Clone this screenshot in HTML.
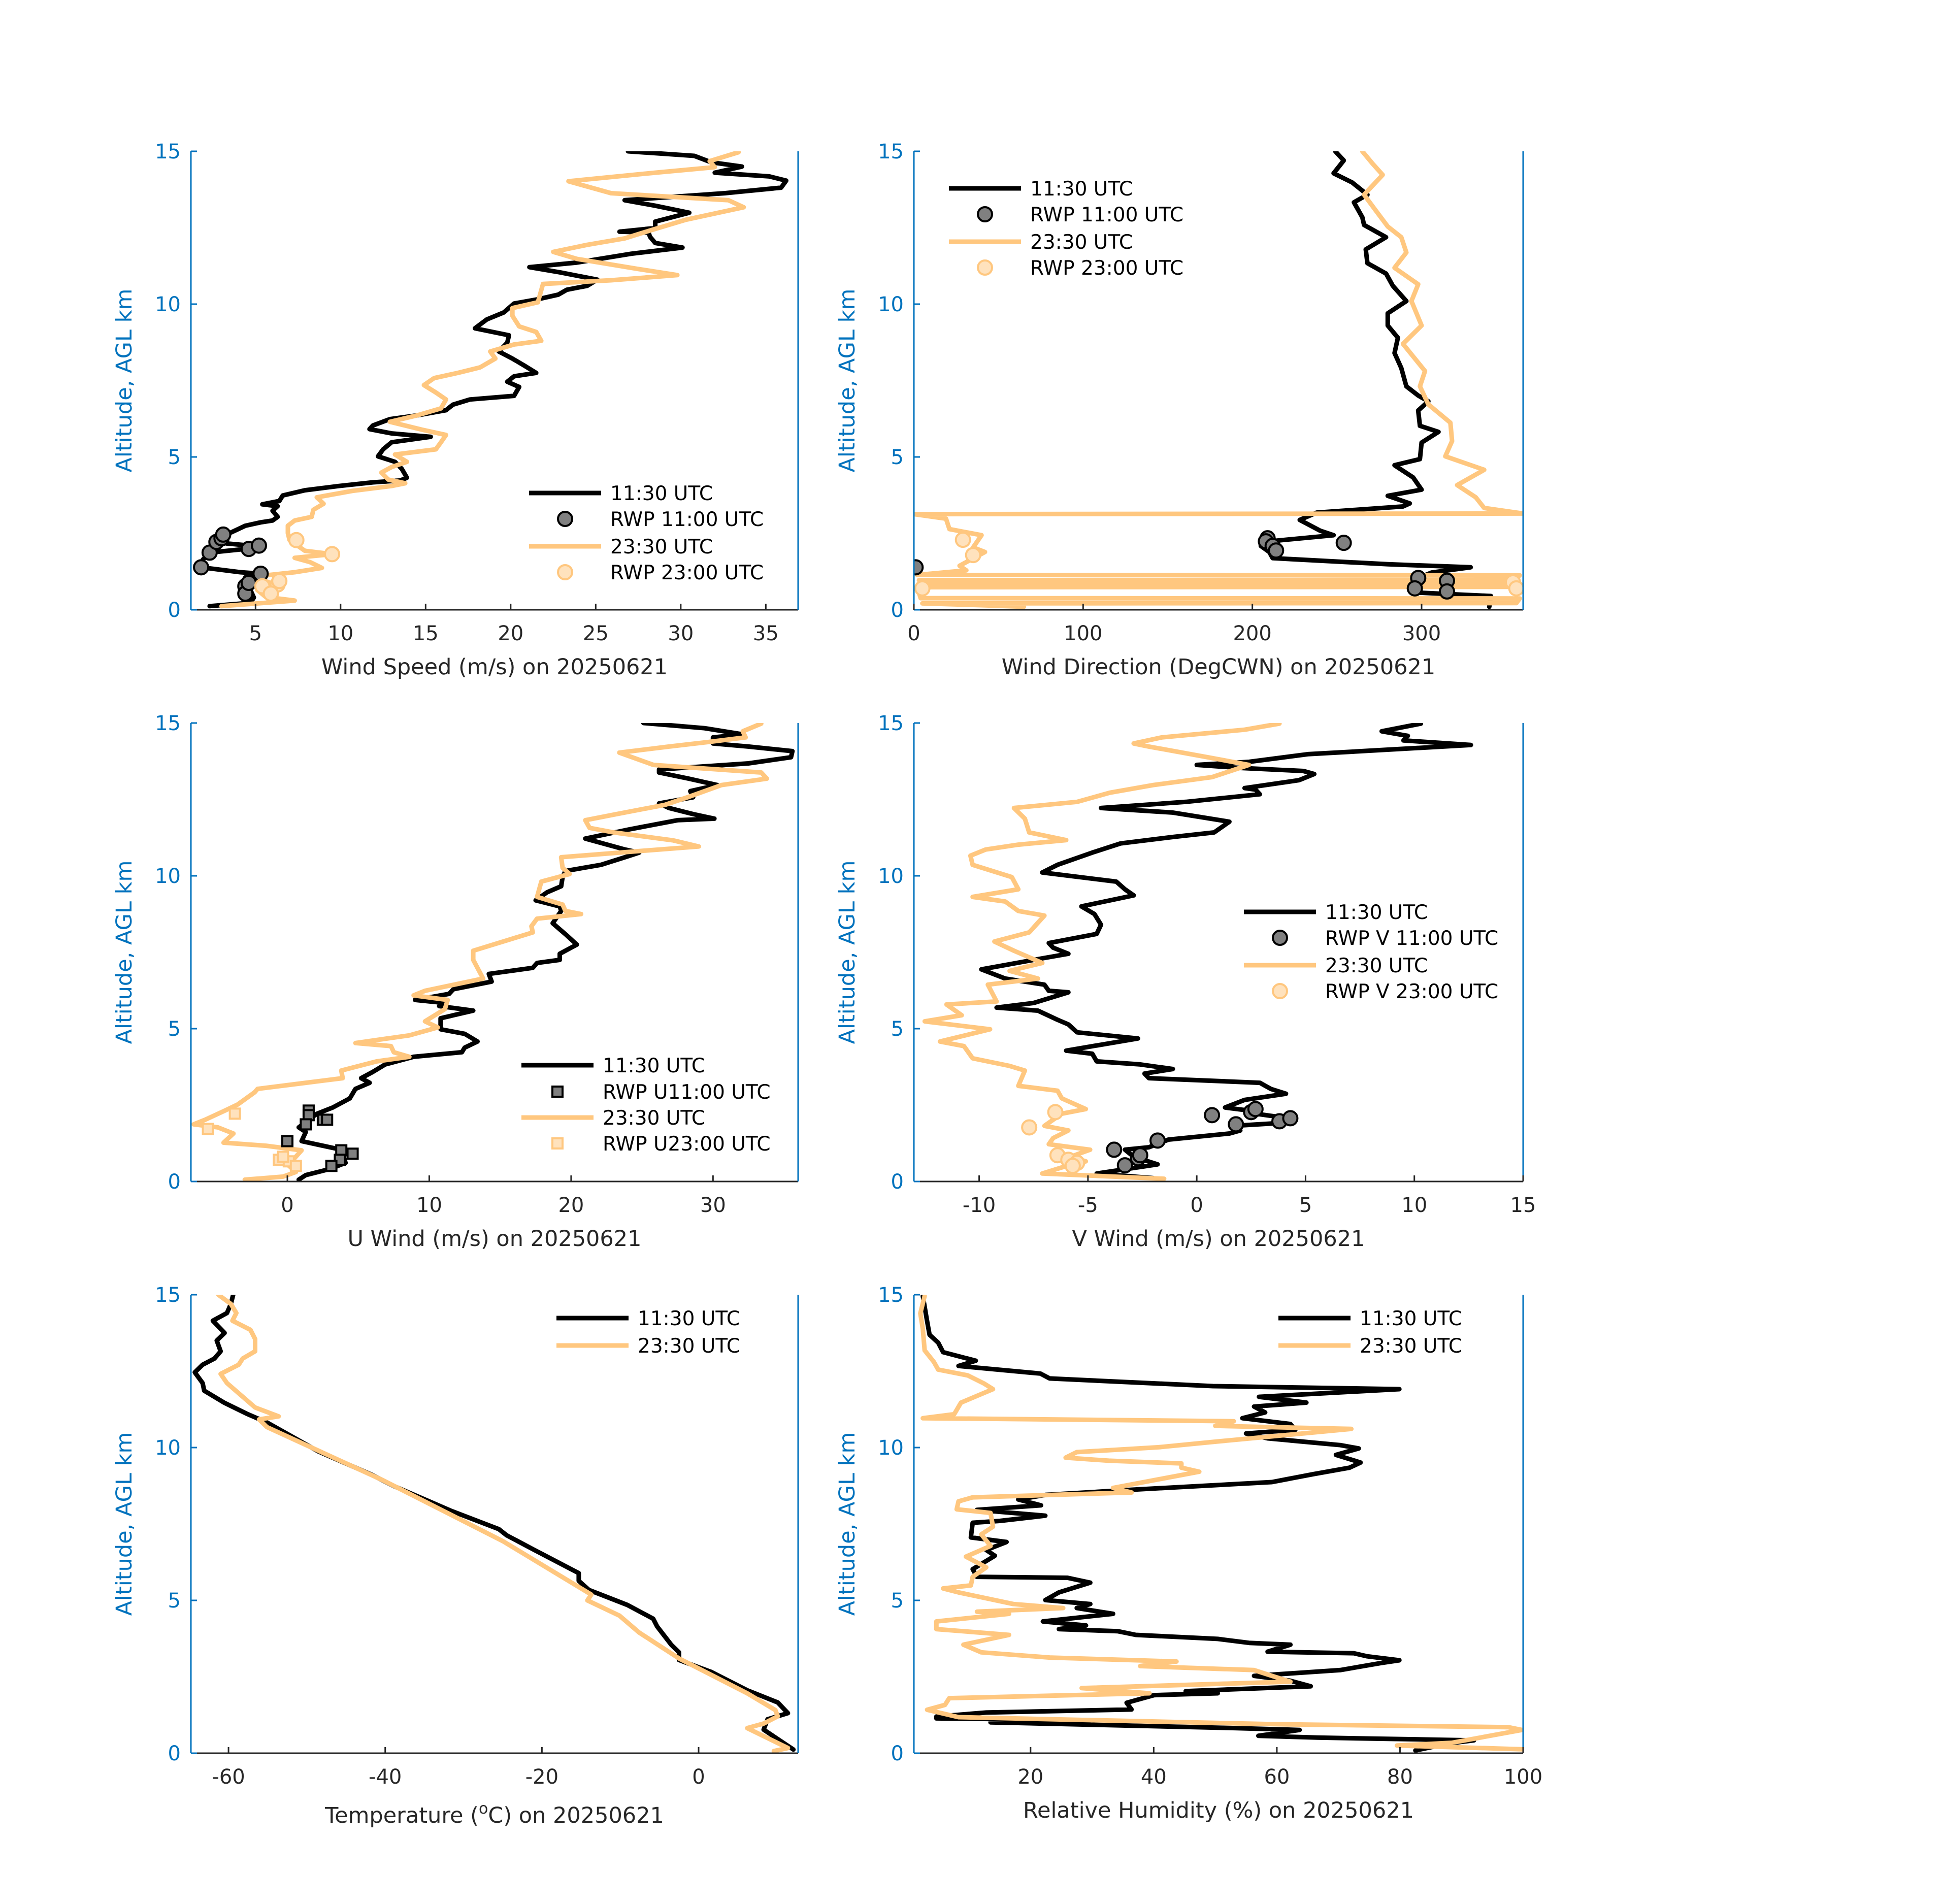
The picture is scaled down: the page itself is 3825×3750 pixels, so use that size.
<!DOCTYPE html>
<html>
<head>
<meta charset="utf-8">
<style>
  html,body{margin:0;padding:0;background:#fff;}
  svg{display:block;font-family:"DejaVu Sans","Liberation Sans",sans-serif;}
</style>
</head>
<body>
<svg id="fig" xmlns="http://www.w3.org/2000/svg" width="3825" height="3750" viewBox="0 0 3825 3750">
  <rect x="0" y="0" width="3825" height="3750" fill="#ffffff"/>
</svg>
<script>
// ---------------- DATA (value, altitude km) ----------------
const wsBlack=[[2.3,0.12],[4.7,0.23],[4.9,0.4],[4.6,0.77],[4.4,1.06],[5.3,1.18],[4.1,1.23],[1.8,1.39],[1.9,1.64],[2.3,1.87],[4.4,1.99],[4.7,2.1],[3.3,2.17],[2.6,2.28],[3.0,2.42],[3.6,2.54],[4.4,2.75],[5.3,2.86],[6.0,2.92],[6.3,3.04],[6.0,3.24],[6.3,3.39],[5.4,3.45],[6.4,3.56],[6.6,3.74],[7.9,3.91],[9.9,4.05],[11.9,4.17],[13.5,4.23],[13.9,4.32],[13.6,4.61],[13.2,4.84],[12.2,5.02],[12.5,5.25],[13.0,5.48],[15.3,5.66],[13.0,5.77],[11.7,5.91],[11.9,6.03],[12.9,6.24],[14.5,6.36],[16.2,6.53],[16.6,6.71],[17.6,6.88],[20.2,7.0],[20.5,7.29],[19.8,7.46],[20.2,7.64],[21.5,7.75],[20.8,7.99],[20.1,8.22],[19.3,8.45],[19.8,8.74],[19.9,8.98],[17.9,9.21],[18.6,9.5],[19.6,9.73],[20.2,10.02],[21.6,10.16],[22.8,10.31],[23.3,10.47],[24.5,10.6],[25.1,10.8],[22.9,11.04],[21.1,11.21],[23.9,11.36],[27.1,11.65],[30.1,11.85],[28.5,12.0],[28.2,12.2],[28.1,12.34],[26.4,12.37],[28.5,12.49],[28.5,12.7],[30.5,12.99],[28.5,13.22],[26.7,13.4],[32.6,13.63],[35.9,13.81],[36.2,14.04],[35.2,14.18],[32.0,14.3],[33.6,14.5],[31.8,14.64],[30.8,14.85],[26.9,15.0]];
const wsOrange=[[3.0,0.12],[7.3,0.3],[5.6,0.42],[5.1,0.65],[6.1,0.83],[5.3,1.0],[5.0,1.09],[7.3,1.23],[8.9,1.37],[8.2,1.56],[7.3,1.7],[9.5,1.82],[7.9,1.93],[7.0,2.28],[6.9,2.51],[6.9,2.75],[7.3,2.92],[8.3,3.04],[8.4,3.27],[9.0,3.47],[8.6,3.68],[10.7,3.89],[13.0,4.05],[13.8,4.14],[12.8,4.26],[12.4,4.49],[13.0,4.67],[13.9,4.84],[13.2,5.08],[15.6,5.25],[15.9,5.48],[16.2,5.72],[14.8,5.89],[12.9,6.15],[14.5,6.36],[15.9,6.59],[16.2,6.88],[15.6,7.11],[14.9,7.35],[15.5,7.58],[16.9,7.75],[18.2,7.93],[19.1,8.22],[18.8,8.45],[20.2,8.68],[21.8,8.8],[21.5,9.09],[20.5,9.27],[20.1,9.62],[20.1,9.87],[21.6,10.06],[21.9,10.66],[25.9,10.78],[29.8,10.95],[27.5,11.15],[23.9,11.48],[22.5,11.71],[24.5,11.94],[26.7,12.15],[28.2,12.41],[30.3,12.76],[33.7,13.17],[32.8,13.4],[25.9,13.63],[23.4,14.02],[28.5,14.3],[32.0,14.48],[31.7,14.68],[33.4,14.97]];
const wsRwpBlack=[[5.3,1.18],[4.4,0.77],[4.4,0.53],[4.6,0.88],[1.8,1.39],[2.3,1.87],[2.7,2.22],[3.0,2.34],[3.1,2.46],[4.6,1.99],[5.2,2.1]];
const wsRwpOrange=[[5.7,0.65],[6.3,0.83],[5.4,0.77],[6.4,0.94],[7.4,2.28],[9.5,1.82],[5.9,0.53]];

const wdBlack=[[340,0.1],[341,0.45],[295,0.57],[294,0.95],[306,1.22],[329,1.39],[280,1.49],[212,1.69],[210,1.89],[205,2.09],[210,2.24],[248,2.44],[240,2.59],[228,2.94],[238,3.18],[289,3.38],[293,3.48],[280,3.73],[300,3.93],[295,4.33],[284,4.73],[299,4.93],[300,5.47],[310,5.82],[299,6.02],[298,6.52],[304,6.82],[298,7.01],[291,7.31],[288,7.91],[284,8.4],[286,8.9],[280,9.3],[280,9.7],[291,10.1],[283,10.6],[279,11.0],[268,11.34],[267,11.79],[279,12.19],[266,12.59],[265,12.84],[260,13.33],[268,13.58],[259,13.98],[248,14.28],[254,14.7],[249,15.0]];
const wdOrange=[[65,0.1],[40,0.15],[5,0.21],[356,0.22],[358,0.37],[4,0.38],[2,0.74],[356,0.75],[358,0.84],[5,0.85],[3,0.97],[355,0.98],[358,1.13],[2,1.14],[31,1.29],[27,1.44],[42,1.89],[35,2.04],[40,2.44],[21,2.64],[19,2.98],[0,3.13],[360,3.15],[337,3.33],[332,3.68],[321,4.08],[337,4.58],[314,5.02],[318,5.52],[317,6.12],[304,6.72],[299,7.31],[302,7.81],[289,8.7],[300,9.3],[294,10.1],[298,10.65],[284,11.19],[291,11.69],[288,12.19],[280,12.54],[272,13.13],[266,13.58],[277,14.23],[271,14.6],[265,15.0]];
const wdRwpBlack=[[209,2.34],[208,2.24],[212,2.09],[214,1.94],[254,2.19],[1,1.39],[298,1.04],[315,0.95],[315,0.6],[296,0.7]];
const wdRwpOrange=[[29,2.29],[35,1.79],[5,0.7],[354,0.9],[356,0.7]];

const uBlack=[[0.8,0.06],[1.3,0.21],[3.0,0.41],[4.1,0.61],[3.9,0.91],[3.5,1.07],[1.0,1.32],[1.3,1.62],[0.8,1.77],[1.5,2.02],[2.1,2.22],[3.2,2.42],[4.4,2.72],[4.8,3.03],[5.8,3.23],[5.2,3.38],[6.0,3.58],[6.9,3.83],[8.9,4.08],[12.3,4.23],[12.5,4.38],[13.4,4.58],[12.5,4.83],[10.8,4.98],[10.8,5.34],[13.1,5.59],[10.7,5.74],[11.1,5.84],[9.0,5.94],[11.4,6.14],[11.7,6.29],[14.4,6.54],[14.2,6.79],[17.3,6.99],[17.6,7.15],[19.2,7.25],[19.2,7.45],[20.4,7.75],[19.7,8.05],[19.2,8.25],[18.7,8.45],[19.3,8.85],[19.2,9.0],[17.5,9.2],[18.3,9.46],[19.3,9.66],[19.4,9.96],[19.6,10.16],[22.1,10.36],[23.8,10.61],[24.8,10.76],[23.8,10.86],[21.0,11.22],[24.1,11.52],[27.5,11.82],[30.1,11.87],[28.6,12.02],[26.9,12.22],[26.2,12.37],[28.6,12.57],[28.4,12.77],[30.3,12.97],[28.3,13.18],[26.2,13.38],[26.2,13.48],[32.5,13.68],[35.5,13.88],[35.6,14.08],[32.5,14.23],[30.0,14.33],[30.0,14.53],[32.1,14.63],[29.4,14.83],[25.1,15.0]];
const uOrange=[[-3.0,0.06],[-0.3,0.16],[0.6,0.31],[0,0.56],[0.4,0.71],[1.0,1.02],[-1.5,1.17],[-4.5,1.27],[-3.8,1.57],[-4.9,1.77],[-6.6,1.87],[-5.8,2.02],[-4.4,2.32],[-3.5,2.52],[-2.3,2.92],[-2.1,3.03],[1.3,3.23],[3.9,3.38],[3.8,3.63],[6.3,3.93],[8.6,4.08],[7.5,4.23],[7.3,4.43],[4.8,4.53],[8.6,4.78],[10.6,5.04],[9.7,5.24],[11.1,5.64],[11.3,5.94],[8.9,6.09],[9.7,6.24],[13.8,6.64],[13.1,7.25],[13.1,7.55],[15.9,7.95],[17.3,8.15],[17.2,8.35],[17.6,8.6],[20.7,8.75],[19.6,8.85],[19.4,9.06],[17.6,9.31],[17.9,9.81],[19.9,10.06],[19.4,10.26],[19.3,10.61],[24.8,10.81],[29.0,10.96],[27.2,11.16],[23.0,11.42],[21.3,11.57],[21.0,11.82],[23.2,12.02],[26.6,12.32],[28.2,12.57],[30.6,12.97],[33.8,13.18],[33.4,13.38],[25.8,13.63],[23.4,14.03],[26.9,14.23],[29.7,14.38],[32.3,14.53],[32.1,14.73],[33.4,14.98]];
const uRwpBlack=[[1.5,2.32],[1.5,2.17],[1.3,1.87],[2.5,2.02],[2.8,2.02],[0,1.32],[3.8,1.02],[4.6,0.91],[3.7,0.71],[3.1,0.51]];
const uRwpOrange=[[-3.7,2.22],[-5.6,1.72],[-0.6,0.71],[0.1,0.66],[0.6,0.51],[-0.3,0.81]];

const vBlack=[[-2.0,0.11],[-4.6,0.26],[-1.8,0.56],[-2.9,0.81],[-3.3,1.04],[-2.2,1.12],[-1.3,1.37],[1.5,1.57],[2.0,1.67],[1.7,1.82],[4.0,1.92],[4.2,2.07],[2.7,2.22],[2.4,2.32],[1.3,2.42],[2.2,2.67],[4.1,2.87],[3.4,3.03],[2.9,3.23],[-2.2,3.38],[-2.4,3.53],[-1.1,3.68],[-2.6,3.83],[-4.6,3.93],[-4.8,4.18],[-6.0,4.28],[-2.7,4.68],[-5.5,4.88],[-5.9,5.14],[-6.4,5.29],[-7.3,5.59],[-9.2,5.69],[-7.5,5.84],[-5.9,6.19],[-6.8,6.24],[-7.0,6.44],[-8.8,6.64],[-9.9,6.94],[-7.1,7.3],[-5.9,7.45],[-6.6,7.65],[-6.8,7.8],[-4.6,8.1],[-4.4,8.4],[-4.7,8.75],[-5.3,9.0],[-2.9,9.36],[-3.3,9.56],[-3.7,9.81],[-7.1,10.11],[-6.4,10.36],[-4.8,10.76],[-3.5,11.06],[-1.1,11.27],[0.8,11.42],[1.5,11.77],[-1.1,12.07],[-4.4,12.22],[-0.5,12.42],[2.9,12.67],[2.7,12.82],[2.2,12.87],[4.7,13.13],[5.4,13.33],[4.9,13.43],[2.0,13.53],[0,13.63],[2.4,13.73],[5.1,13.98],[12.6,14.28],[9.5,14.43],[9.7,14.58],[8.5,14.73],[10.3,14.98]];
const vOrange=[[-1.5,0.09],[-7.1,0.26],[-6.2,0.46],[-5.1,0.66],[-5.8,0.81],[-4.9,1.04],[-6.8,1.22],[-6.6,1.42],[-5.9,1.67],[-7.0,1.82],[-6.2,2.22],[-5.1,2.37],[-6.2,2.72],[-6.4,2.97],[-8.2,3.13],[-7.9,3.63],[-8.6,3.78],[-10.3,4.03],[-10.7,4.43],[-11.8,4.58],[-9.5,4.98],[-12.5,5.24],[-10.8,5.44],[-11.5,5.79],[-9.2,5.89],[-9.6,6.44],[-7.3,6.64],[-8.6,6.89],[-7.1,7.15],[-8.4,7.55],[-9.3,7.85],[-7.7,8.15],[-7.0,8.7],[-8.2,8.85],[-8.8,9.16],[-10.3,9.31],[-8.2,9.56],[-8.5,9.96],[-10.3,10.36],[-10.4,10.66],[-9.7,10.86],[-8.2,11.02],[-6.0,11.17],[-7.7,11.42],[-7.9,11.87],[-8.4,12.22],[-5.5,12.42],[-4.0,12.72],[-2.0,12.97],[0.7,13.23],[2.4,13.63],[0.5,13.88],[-2.2,14.23],[-2.9,14.33],[-1.6,14.53],[2.2,14.78],[3.8,14.98]];
const vRwpBlack=[[-3.8,1.04],[-3.3,0.53],[-2.7,0.76],[-2.6,0.86],[-1.8,1.34],[0.7,2.17],[1.8,1.87],[2.5,2.27],[2.7,2.37],[3.8,1.97],[4.3,2.07]];
const vRwpOrange=[[-6.5,2.27],[-7.7,1.77],[-6.4,0.86],[-5.9,0.71],[-5.5,0.61],[-5.7,0.51]];

const tBlack=[[12.1,0.12],[8.3,0.77],[8.8,1.11],[11.4,1.31],[10.1,1.66],[6.2,2.06],[1.6,2.66],[-2.5,3.05],[-2.5,3.3],[-3.5,3.55],[-5.3,4.15],[-5.8,4.4],[-9.1,4.85],[-14.0,5.34],[-15.3,5.64],[-15.3,5.89],[-20.9,6.64],[-24.5,7.13],[-25.5,7.33],[-31.6,7.93],[-38.8,8.73],[-41.8,9.12],[-48.5,9.87],[-55.1,10.82],[-57.7,11.11],[-60.5,11.46],[-63.1,11.86],[-63.3,12.11],[-64.3,12.46],[-63.3,12.71],[-61.8,12.91],[-61.0,13.15],[-61.5,13.5],[-60.5,13.75],[-62.0,14.15],[-60.2,14.4],[-59.7,14.7],[-59.4,15.0]];
const tOrange=[[9.6,0.07],[11.4,0.17],[6.2,0.82],[8.3,0.97],[10.1,1.21],[9.8,1.41],[6.2,1.96],[-2.5,3.1],[-7.6,3.95],[-10.1,4.5],[-14.2,5.0],[-13.7,5.19],[-25.0,6.94],[-32.6,7.93],[-40.3,8.93],[-55.1,10.67],[-56.1,10.92],[-53.6,11.02],[-56.6,11.31],[-60.2,12.11],[-61.0,12.41],[-58.7,12.71],[-58.2,12.91],[-56.6,13.15],[-56.6,13.55],[-57.2,13.85],[-59.5,14.15],[-59.0,14.4],[-59.7,14.7],[-61.3,15.0]];

const rhBlack=[[82.5,0.09],[88.0,0.32],[92.0,0.42],[66.6,0.51],[57.0,0.57],[63.7,0.76],[53.3,0.82],[13.5,1.01],[29.7,1.08],[4.7,1.14],[4.7,1.2],[12.8,1.33],[36.4,1.43],[35.6,1.65],[40.1,1.9],[50.4,1.96],[45.2,2.03],[65.5,2.19],[62.2,2.37],[56.3,2.53],[70.3,2.72],[76.9,2.95],[79.9,3.04],[74.7,3.17],[72.5,3.27],[58.5,3.32],[62.2,3.55],[55.5,3.61],[50.4,3.74],[37.1,3.87],[34.2,3.99],[24.6,4.06],[29.0,4.18],[22.0,4.31],[33.4,4.56],[27.5,4.75],[29.7,4.88],[22.4,5.01],[24.6,5.26],[29.7,5.58],[26.0,5.74],[11.3,5.77],[10.6,6.02],[14.2,6.46],[12.8,6.65],[16.1,6.91],[10.3,7.06],[10.6,7.54],[15.0,7.6],[22.4,7.77],[11.3,7.96],[21.7,8.11],[18.0,8.3],[22.4,8.45],[36.4,8.62],[59.2,8.87],[65.9,9.13],[71.8,9.34],[73.6,9.51],[69.6,9.76],[73.3,9.97],[70.3,10.08],[58.5,10.3],[55.0,10.46],[63.0,10.58],[62.2,10.77],[54.4,10.96],[58.1,11.15],[56.3,11.34],[64.8,11.47],[57.1,11.66],[65.2,11.75],[79.9,11.91],[49.6,12.01],[23.1,12.26],[21.6,12.42],[8.3,12.67],[11.1,12.84],[5.8,13.12],[5.0,13.43],[3.6,13.69],[3.2,14.13],[2.5,14.96]];
const rhOrange=[[99.8,0.13],[79.5,0.25],[88.4,0.34],[99.8,0.76],[97.6,0.85],[59.2,0.95],[8.3,1.18],[3.2,1.42],[6.1,1.58],[6.8,1.8],[39.3,1.96],[28.3,2.13],[62.2,2.34],[59.2,2.53],[56.3,2.72],[37.8,2.85],[43.7,3.0],[23.1,3.13],[12.0,3.3],[9.1,3.55],[16.5,3.87],[4.7,4.06],[4.7,4.31],[16.5,4.56],[11.3,4.63],[25.3,4.75],[17.2,4.88],[8.3,5.26],[5.8,5.39],[10.3,5.49],[10.6,5.77],[12.8,6.08],[9.5,6.43],[13.5,6.78],[12.0,7.16],[13.9,7.41],[13.5,7.86],[8.0,7.98],[8.3,8.24],[10.6,8.37],[36.4,8.53],[33.4,8.68],[40.8,8.96],[47.4,9.21],[44.5,9.34],[44.5,9.48],[32.7,9.57],[25.7,9.67],[27.5,9.85],[40.8,10.01],[50.4,10.2],[72.1,10.61],[50.0,10.71],[53.0,10.86],[2.5,10.96],[7.6,11.09],[8.7,11.47],[13.9,11.91],[12.4,12.1],[9.8,12.36],[5.0,12.55],[4.3,12.8],[2.8,13.18],[2.5,13.88],[2.1,14.39],[2.8,14.96]];

const altTicks=[0,5,10,15];
const wsTicks=[5,10,15,20,25,30,35];
const wdTicks=[0,100,200,300];
const uTicks=[0,10,20,30];
const vTicks=[-10,-5,0,5,10,15];
const tTicks=[-60,-40,-20,0];
const rhTicks=[20,40,60,80,100];

// ---------------- RENDER ----------------
const NS='http://www.w3.org/2000/svg';
const svg=document.getElementById('fig');
const BLACK='#000000', ORANGE='#FFC77F', BLUE='#0072BD', AXG='#262626';
function el(tag,attrs,parent){const e=document.createElementNS(NS,tag);for(const k in attrs)e.setAttribute(k,attrs[k]);(parent||svg).appendChild(e);return e;}

const COLS=[[376,1572],[1800,3000]];
const ROWS=[[298,1201],[1424,2327],[2550,3453]];

function panel(cfg){
  const [x0,x1]=COLS[cfg.col], [y0,y1]=ROWS[cfg.row];
  const g=el('g',{});
  
  
  const sx=v=>x0+(v-cfg.xmin)/(cfg.xmax-cfg.xmin)*(x1-x0);
  const sy=a=>y1-(a/15)*(y1-y0);
  const cid='clip-'+cfg.name;
  const cp=el('clipPath',{id:cid},g);
  el('rect',{x:x0,y:y0,width:x1-x0,height:y1-y0},cp);
  const plot=el('g',{'clip-path':'url(#'+cid+')'},g);
  cfg.lines.forEach(s=>{
    const pl=el('polyline',{points:s.data.map(d=>sx(d[0]).toFixed(1)+','+sy(d[1]).toFixed(1)).join(' '),fill:'none',stroke:s.color,'stroke-width':9,'stroke-linejoin':'round','stroke-linecap':'round'},plot);
    
    
  });
  (cfg.markers||[]).forEach(m=>{
    m.data.forEach(d=>{
      let mk;
      if(m.shape==='square'){
        mk=el('rect',{x:sx(d[0])-10,y:sy(d[1])-10,width:20,height:20,fill:m.fill,stroke:m.stroke,'stroke-width':4},plot);
      } else {
        mk=el('circle',{cx:sx(d[0]),cy:sy(d[1]),r:14,fill:m.fill,stroke:m.stroke,'stroke-width':4},plot);
      }
      
      
    });
  });
  const bx=el('line',{x1:x0,y1:y1,x2:x1,y2:y1,stroke:AXG,'stroke-width':3},g);
  
  
  const ly=el('line',{x1:x0,y1:y0,x2:x0,y2:y1,stroke:BLUE,'stroke-width':3},g);
  
  
  const ry=el('line',{x1:x1,y1:y0,x2:x1,y2:y1,stroke:BLUE,'stroke-width':3},g);
  
  
  altTicks.forEach(t=>{
    el('line',{x1:x0,y1:sy(t),x2:x0+12,y2:sy(t),stroke:BLUE,'stroke-width':3},g);
    const tx=el('text',{x:x0-20,y:sy(t)+14,'text-anchor':'end','font-size':40,fill:BLUE},g);
    tx.textContent=t;
    
    
  });
  cfg.xticks.forEach(t=>{
    el('line',{x1:sx(t),y1:y1,x2:sx(t),y2:y1-12,stroke:AXG,'stroke-width':3},g);
    const tx=el('text',{x:sx(t),y:y1+60,'text-anchor':'middle','font-size':40,fill:AXG},g);
    tx.textContent=t;
    
    
  });
  const yl=el('text',{x:0,y:0,'text-anchor':'middle','font-size':43,fill:BLUE,transform:'translate('+(x0-117)+','+((y0+y1)/2)+') rotate(-90)'},g);
  yl.textContent='Altitude, AGL km';
  
  
  const xl=el('text',{x:(x0+x1)/2,y:y1+(cfg.xlabelSup?137:127),'text-anchor':'middle','font-size':43,fill:AXG},g);
  
  
  if(cfg.xlabelSup){
    const a=el('tspan',{},xl);a.textContent='Temperature (';
    const b=el('tspan',{dy:-18,'font-size':30},xl);b.textContent='o';
    const c=el('tspan',{dy:18},xl);c.textContent='C) on 20250621';
  } else xl.textContent=cfg.xlabel;
  const L=cfg.legend;
  const lg=el('g',{},g);
  
  
  L.items.forEach((it,i)=>{
    const y=L.rows[i];
    const row=el('g',{},lg);
    
    
    if(it.type==='line'){
      el('line',{x1:L.x,y1:y,x2:L.x+142,y2:y,stroke:it.color,'stroke-width':9},row);
    } else if(it.type==='square'){
      el('rect',{x:L.x+71-10,y:y-10,width:20,height:20,fill:it.fill,stroke:it.stroke,'stroke-width':4},row);
    } else {
      el('circle',{cx:L.x+71,cy:y,r:14,fill:it.fill,stroke:it.stroke,'stroke-width':4},row);
    }
    const t=el('text',{x:L.x+160,y:y+14,'font-size':39,fill:'#000'},row);
    t.textContent=it.label;
  });
}

const GF='#808080', GS='#000000', OF='#FFE2BD', OS='#FFC77F';

panel({name:'wind-speed-panel',col:0,row:0,xmin:1.2,xmax:36.9,xticks:wsTicks,xlabel:'Wind Speed (m/s) on 20250621',
  lines:[{name:'wind-speed-1130',data:wsBlack,color:BLACK},{name:'wind-speed-2330',data:wsOrange,color:ORANGE}],
  markers:[{name:'rwp-1100-marker',data:wsRwpBlack,fill:GF,stroke:GS},{name:'rwp-2300-marker',data:wsRwpOrange,fill:OF,stroke:OS}],
  legend:{x:1042,rows:[971,1022,1076,1127],items:[{type:'line',color:BLACK,label:'11:30 UTC'},{type:'circle',fill:GF,stroke:GS,label:'RWP 11:00 UTC'},{type:'line',color:ORANGE,label:'23:30 UTC'},{type:'circle',fill:OF,stroke:OS,label:'RWP 23:00 UTC'}]}});

panel({name:'wind-direction-panel',col:1,row:0,xmin:0,xmax:360,xticks:wdTicks,xlabel:'Wind Direction (DegCWN) on 20250621',
  lines:[{name:'wind-dir-1130',data:wdBlack,color:BLACK},{name:'wind-dir-2330',data:wdOrange,color:ORANGE}],
  markers:[{name:'rwp-1100-marker',data:wdRwpBlack,fill:GF,stroke:GS},{name:'rwp-2300-marker',data:wdRwpOrange,fill:OF,stroke:OS}],
  legend:{x:1869,rows:[371,422,476,527],items:[{type:'line',color:BLACK,label:'11:30 UTC'},{type:'circle',fill:GF,stroke:GS,label:'RWP 11:00 UTC'},{type:'line',color:ORANGE,label:'23:30 UTC'},{type:'circle',fill:OF,stroke:OS,label:'RWP 23:00 UTC'}]}});

panel({name:'u-wind-panel',col:0,row:1,xmin:-6.8,xmax:36,xticks:uTicks,xlabel:'U Wind (m/s) on 20250621',
  lines:[{name:'u-wind-1130',data:uBlack,color:BLACK},{name:'u-wind-2330',data:uOrange,color:ORANGE}],
  markers:[{name:'rwp-u-1100-marker',data:uRwpBlack,fill:GF,stroke:GS,shape:'square'},{name:'rwp-u-2300-marker',data:uRwpOrange,fill:OF,stroke:OS,shape:'square'}],
  legend:{x:1027,rows:[2098,2150,2201,2252],items:[{type:'line',color:BLACK,label:'11:30 UTC'},{type:'square',fill:GF,stroke:GS,label:'RWP U11:00 UTC'},{type:'line',color:ORANGE,label:'23:30 UTC'},{type:'square',fill:OF,stroke:OS,label:'RWP U23:00 UTC'}]}});

panel({name:'v-wind-panel',col:1,row:1,xmin:-13,xmax:15,xticks:vTicks,xlabel:'V Wind (m/s) on 20250621',
  lines:[{name:'v-wind-1130',data:vBlack,color:BLACK},{name:'v-wind-2330',data:vOrange,color:ORANGE}],
  markers:[{name:'rwp-v-1100-marker',data:vRwpBlack,fill:GF,stroke:GS},{name:'rwp-v-2300-marker',data:vRwpOrange,fill:OF,stroke:OS}],
  legend:{x:2450,rows:[1796,1847,1901,1952],items:[{type:'line',color:BLACK,label:'11:30 UTC'},{type:'circle',fill:GF,stroke:GS,label:'RWP V 11:00 UTC'},{type:'line',color:ORANGE,label:'23:30 UTC'},{type:'circle',fill:OF,stroke:OS,label:'RWP V 23:00 UTC'}]}});

panel({name:'temperature-panel',col:0,row:2,xmin:-64.8,xmax:12.7,xticks:tTicks,xlabelSup:true,
  lines:[{name:'temperature-1130',data:tBlack,color:BLACK},{name:'temperature-2330',data:tOrange,color:ORANGE}],
  legend:{x:1096,rows:[2596,2650],items:[{type:'line',color:BLACK,label:'11:30 UTC'},{type:'line',color:ORANGE,label:'23:30 UTC'}]}});

panel({name:'humidity-panel',col:1,row:2,xmin:1.05,xmax:100,xticks:rhTicks,xlabel:'Relative Humidity (%) on 20250621',
  lines:[{name:'rh-1130',data:rhBlack,color:BLACK},{name:'rh-2330',data:rhOrange,color:ORANGE}],
  legend:{x:2518,rows:[2596,2650],items:[{type:'line',color:BLACK,label:'11:30 UTC'},{type:'line',color:ORANGE,label:'23:30 UTC'}]}});
</script>
</body>
</html>
